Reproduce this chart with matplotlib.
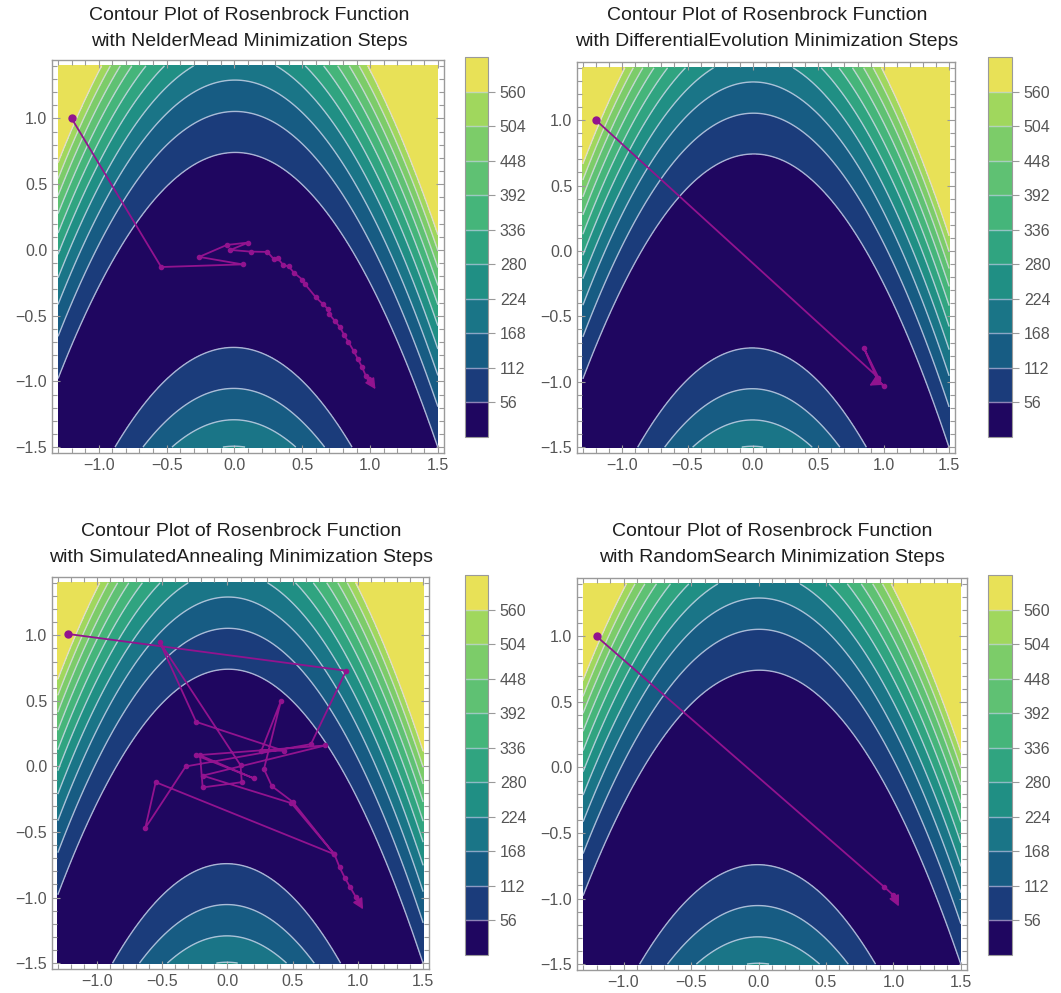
import numpy as np
import matplotlib
matplotlib.use("Agg")
import matplotlib.pyplot as plt
from matplotlib.colors import ListedColormap, BoundaryNorm
from matplotlib.cm import ScalarMappable
from matplotlib.ticker import MultipleLocator

plt.rcParams['font.family'] = ['Liberation Sans', 'DejaVu Sans']

# ---------------- data ----------------
levels_ticks = [56, 112, 168, 224, 280, 336, 392, 448, 504, 560]
band_colors = ['#1f0660', '#1b3c7b', '#175c83', '#1a7587', '#208f84', '#30a480',
               '#45b57a', '#5fc173', '#7ccc69', '#a0d75d', '#e8e157']

methods = ["NelderMead", "DifferentialEvolution", "SimulatedAnnealing", "RandomSearch"]

nm_x = [-1.2, -0.54, 0.06, -0.26, -0.056, 0.103, -0.03, 0.12, 0.243, 0.29, 0.32, 0.36,
        0.40, 0.44, 0.50, 0.52, 0.60, 0.65, 0.69, 0.70, 0.74, 0.78, 0.81, 0.84, 0.88,
        0.91, 0.94, 0.97, 0.99, 1.04]
nm_y = [1.0, -0.13, -0.11, -0.053, 0.038, 0.056, 0.0, -0.013, -0.015, -0.07, -0.065,
        -0.115, -0.125, -0.175, -0.225, -0.26, -0.36, -0.41, -0.45, -0.49, -0.54, -0.59,
        -0.65, -0.70, -0.77, -0.83, -0.89, -0.96, -0.98, -1.06]

de_x = [-1.2, 0.96, 0.85, 0.945, 1.0, 0.96, 0.89]
de_y = [1.0, -0.97, -0.745, -0.97, -1.035, -0.99, -1.03]

sa_x = [-1.22, 0.91, 0.64, -0.32, -0.63, -0.55, 0.82, 0.49, -0.19, 0.75, -0.24, 0.20,
        -0.21, -0.19, 0.11, 0.10, -0.52, -0.24, 0.43, 0.26, 0.41, 0.28, 0.34, 0.50,
        0.82, 0.86, 0.90, 0.94, 0.985, 1.04]
sa_y = [1.01, 0.73, 0.17, 0.00, -0.47, -0.12, -0.67, -0.28, -0.07, 0.16, 0.085, -0.09,
        0.085, -0.16, -0.12, 0.01, 0.95, 0.34, 0.12, 0.12, 0.50, -0.02, -0.15, -0.27,
        -0.67, -0.77, -0.85, -0.92, -0.997, -1.09]

rs_x = [-1.2, 0.93, 1.0, 1.04]
rs_y = [1.0, -0.91, -0.975, -1.06]

paths = [(nm_x, nm_y), (de_x, de_y), (sa_x, sa_y), (rs_x, rs_y)]

W, H = 1061, 993
# frame boxes in pixels: left, right, top, bottom
frames = [(52, 444, 60, 453), (577, 955, 62, 453), (52, 429, 577, 969), (577, 967, 578, 970)]
cbars = [(465, 488, 57, 437), (988, 1012, 57, 437), (465, 488, 575, 955), (988, 1012, 575, 955)]
titles = [(249, 15), (767, 15), (241, 531), (772, 531)]

fig = plt.figure(figsize=(W / 100, H / 100), dpi=100)
fig.patch.set_facecolor('white')

xs = np.linspace(-1.3, 1.5, 500)
ys = np.linspace(-1.5, 1.4, 500)
X, Y = np.meshgrid(xs, ys)
Z = (1 - X) ** 2 + 100 * (Y + X ** 2) ** 2

cmap = ListedColormap(band_colors)
bounds = [0] + levels_ticks + [616]
norm = BoundaryNorm(bounds, cmap.N)

purple = '#92138f'
gray = '#9a9a9a'
labcol = '#555555'

for i in range(4):
    l, r, t, b = frames[i]
    ax = fig.add_axes([l / W, 1 - b / H, (r - l) / W, (b - t) / H])
    ax.contourf(X, Y, Z, levels=[-1] + levels_ticks + [1e7], colors=band_colors)
    ax.contour(X, Y, Z, levels=levels_ticks, colors='#dcdcf4', linewidths=1.0, alpha=0.75)
    px, py = paths[i]
    ax.plot(px[:-1], py[:-1], color=purple, lw=1.3, marker='o', ms=3.0, zorder=5)
    ax.plot(px[0], py[0], 'o', color=purple, ms=5, zorder=6)
    ax.annotate('', xy=(px[-1], py[-1]), xytext=(px[-2], py[-2]),
                arrowprops=dict(arrowstyle='-|>', color=purple, lw=1.1,
                                mutation_scale=16, shrinkA=0, shrinkB=0), zorder=6)
    ax.set_xlim(-1.345, 1.545)
    ax.set_ylim(-1.545, 1.445)
    ax.set_facecolor('white')
    ax.xaxis.set_major_locator(MultipleLocator(0.5))
    ax.yaxis.set_major_locator(MultipleLocator(0.5))
    ax.xaxis.set_minor_locator(MultipleLocator(0.1))
    ax.yaxis.set_minor_locator(MultipleLocator(0.1))
    ax.tick_params(which='both', direction='in', top=True, right=True, color=gray,
                   labelcolor=labcol, labelsize=11.5, width=0.8)
    ax.tick_params(which='major', length=6)
    ax.tick_params(which='minor', length=3.5)
    ax.set_xticks([-1.0, -0.5, 0.0, 0.5, 1.0, 1.5])
    ax.set_yticks([-1.5, -1.0, -0.5, 0.0, 0.5, 1.0])
    ax.set_xticklabels(['\u22121.0', '\u22120.5', '0.0', '0.5', '1.0', '1.5'])
    ax.set_yticklabels(['\u22121.5', '\u22121.0', '\u22120.5', '0.0', '0.5', '1.0'])
    for s in ax.spines.values():
        s.set_color(gray)
        s.set_linewidth(1.0)

    # colorbar
    cl, cr, ct, cbt = cbars[i]
    cax = fig.add_axes([cl / W, 1 - cbt / H, (cr - cl) / W, (cbt - ct) / H])
    cb = fig.colorbar(ScalarMappable(norm=norm, cmap=cmap), cax=cax, ticks=levels_ticks,
                      drawedges=True)
    cb.dividers.set_color('#d8d8f2')
    cb.dividers.set_alpha(0.6)
    cb.dividers.set_linewidth(1.0)
    cb.outline.set_edgecolor(gray)
    cb.outline.set_linewidth(0.8)
    cax.tick_params(direction='out', length=5, color=gray, labelcolor=labcol,
                    labelsize=11.5, width=0.8)
    cax.minorticks_off()

    tx, ty = titles[i]
    fig.text(tx / W, 1 - ty / H, "Contour Plot of Rosenbrock Function",
             ha='center', va='center', fontsize=14, color='#1e1e1e')
    fig.text(tx / W, 1 - (ty + 27) / H, f"with {methods[i]} Minimization Steps",
             ha='center', va='center', fontsize=14, color='#1e1e1e')

fig.savefig('out.png', dpi=100)
